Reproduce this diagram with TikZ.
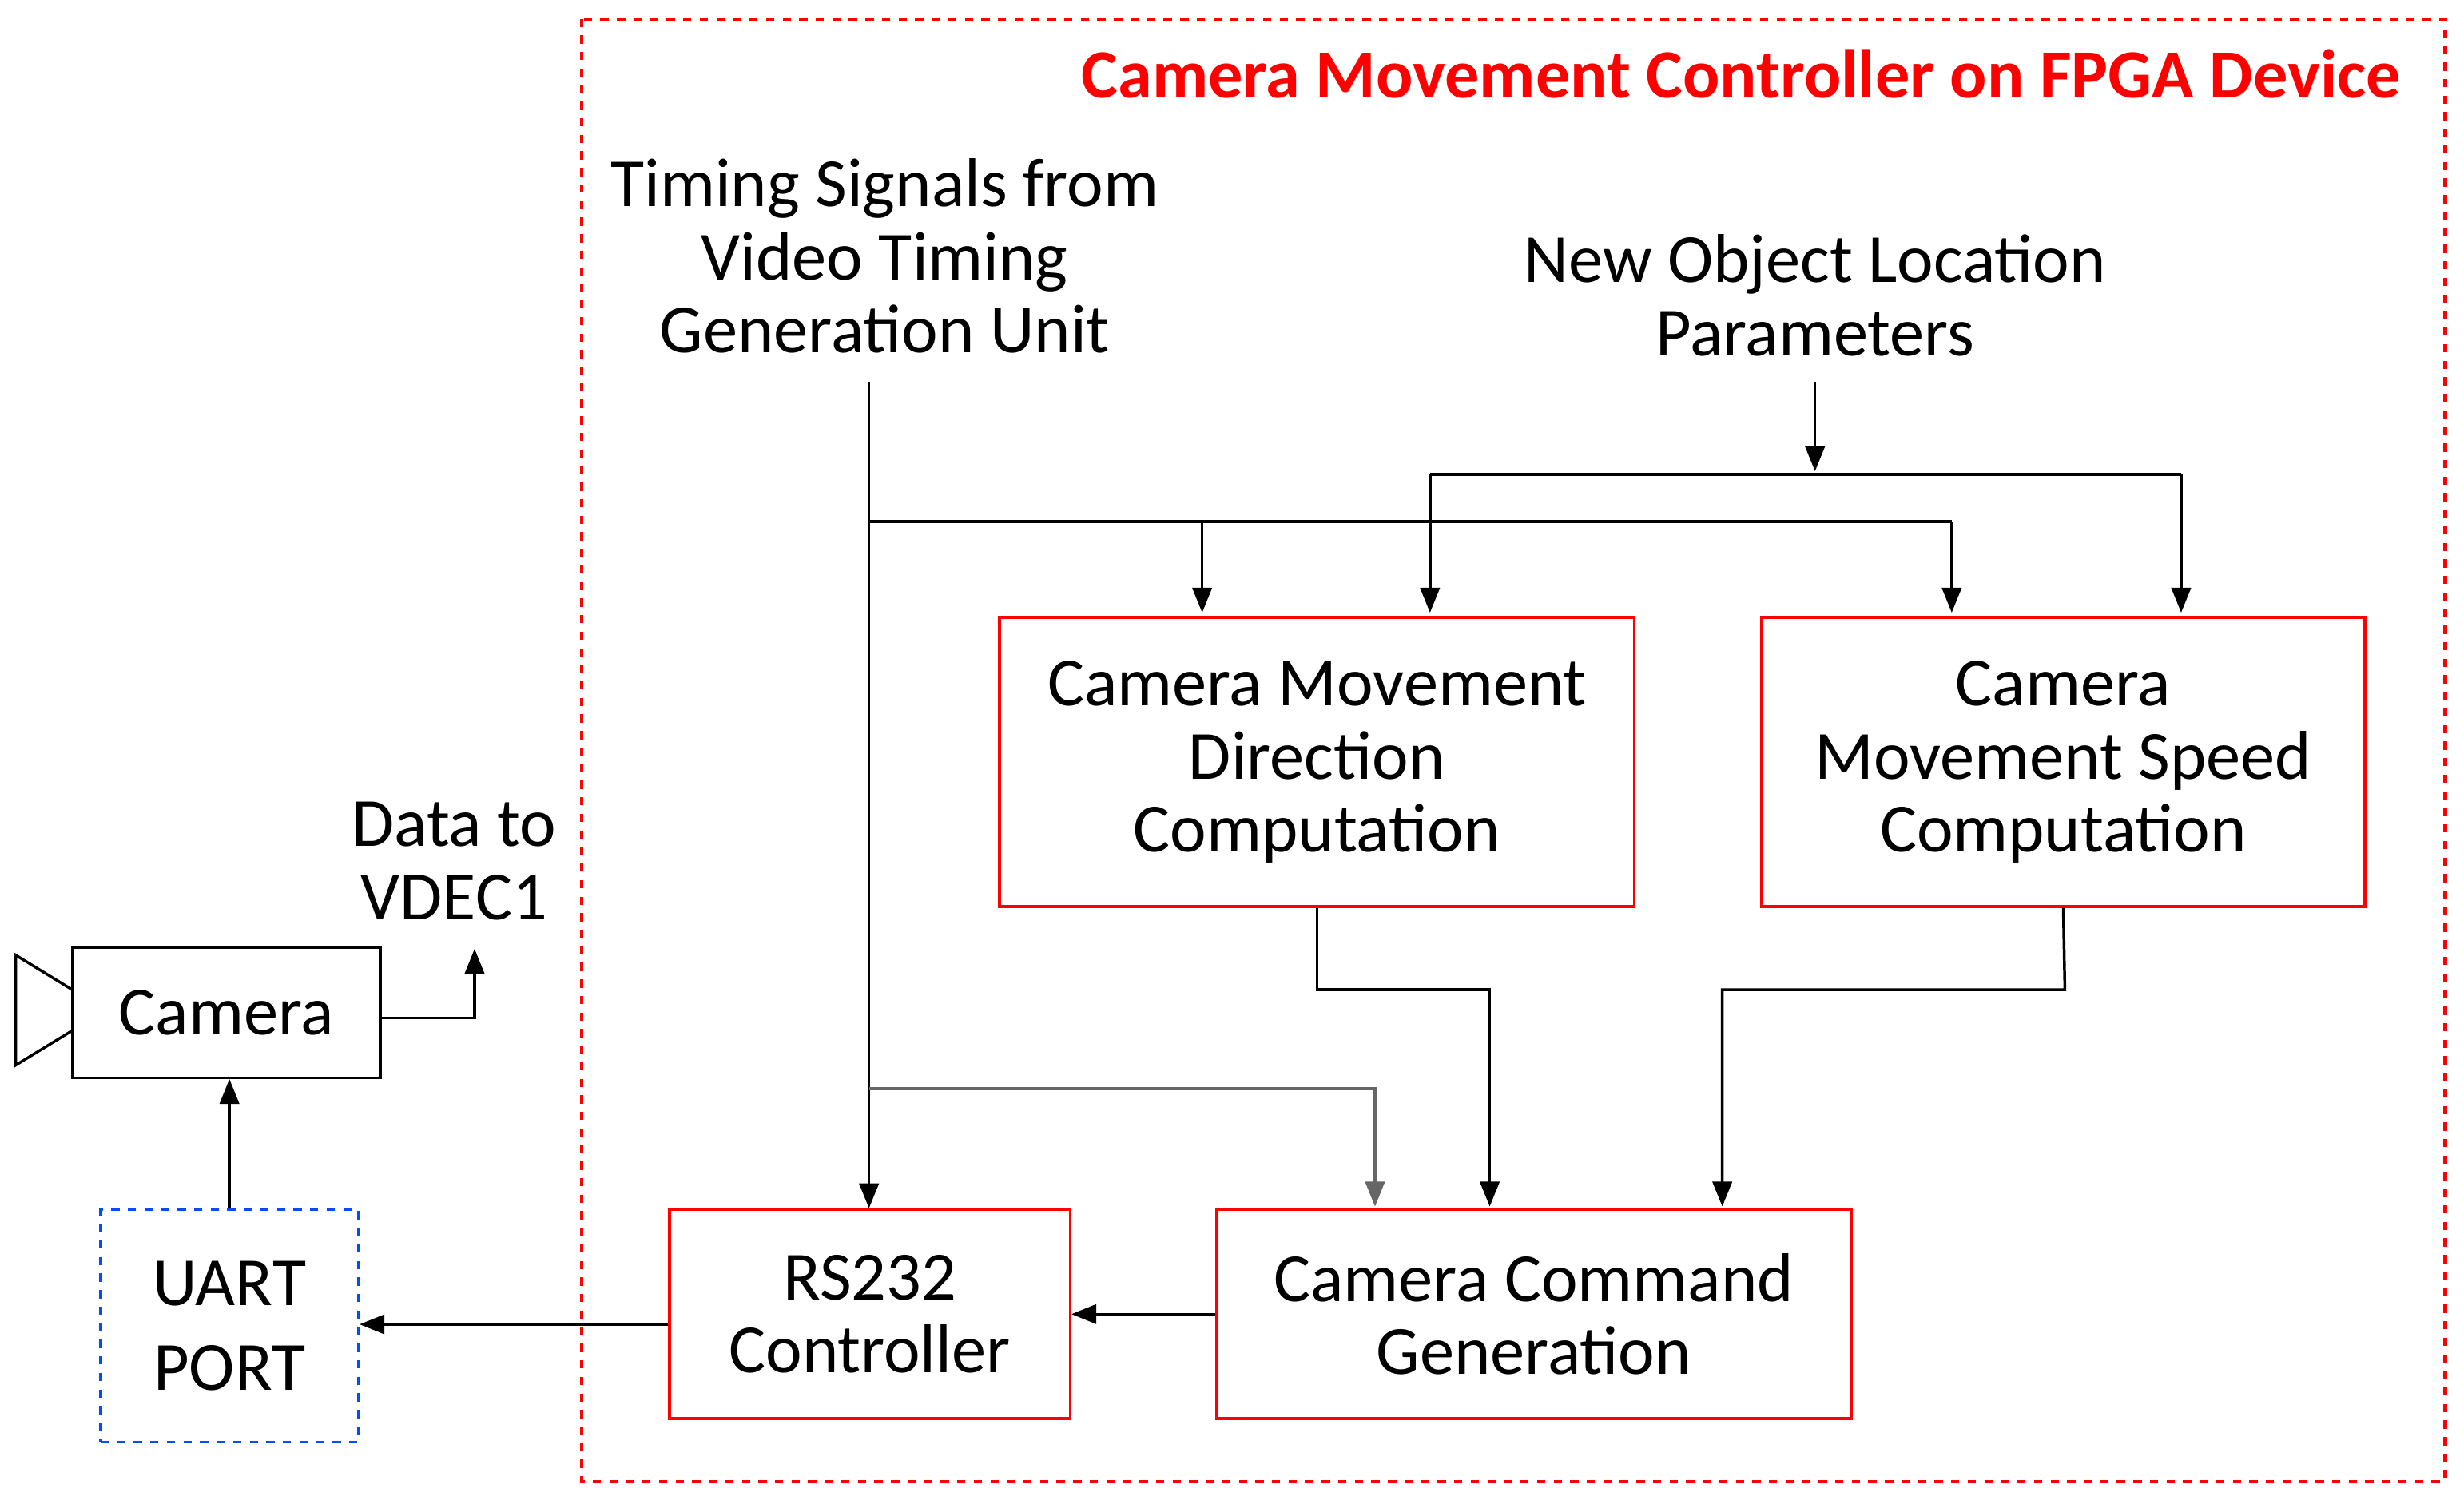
\documentclass[tikz,border=0pt]{standalone}
\usepackage{fontspec}
\setmainfont{Carlito}
\usetikzlibrary{arrows.meta}
\begin{document}
\begin{tikzpicture}[x=0.02cm,y=-0.02cm,
  txt/.style={font=\fontsize{25}{26.5}\selectfont,align=center},
  rbox/.style={draw=red,line width=1pt,txt},
  arr/.style={-{Triangle[length=9pt,width=7pt]},line width=1pt},
  ln/.style={line width=1pt}]
\useasboundingbox (0,0) rectangle (1568,957);
\draw[red,dashed,line width=1.2pt] (370,12) rectangle (1556,943);
\node[anchor=east,text=red,font=\fontsize{25}{30}\selectfont\bfseries] (title) at (1534,47) {Camera Movement Controller on FPGA Device};
\node[txt] (timing) at (563,163) {Timing Signals from\\Video Timing\\Generation Unit};
\node[txt] (newobj) at (1155,188) {New Object Location\\Parameters};
\node[rbox,minimum width=404\pgflinewidth*0+8.08cm,minimum height=3.68cm] (dir) at (838,485) {Camera Movement\\Direction\\Computation};
\node[rbox,minimum width=7.68cm,minimum height=3.68cm] (spd) at (1313,485) {Camera\\Movement Speed\\Computation};
\node[rbox,minimum width=5.1cm,minimum height=2.66cm] (rs) at (553.5,836.5) {RS232\\Controller};
\node[rbox,minimum width=8.08cm,minimum height=2.66cm] (cmd) at (976,836.5) {Camera Command\\Generation};
\node[draw,line width=1pt,txt,minimum width=3.92cm,minimum height=1.66cm] (cam) at (144,644.5) {Camera};
\draw[line width=1pt] (46,630)--(10,608)--(10,678)--(46,656);
\node[draw=blue!70!cyan,dashed,line width=1pt,txt,minimum width=3.28cm,minimum height=2.96cm] (uart) at (146,844) {UART\\[4pt]PORT};
\node[txt] (data) at (289,548) {Data to\\VDEC1};
\coordinate (t0) at (553,243);
\coordinate (tb) at (553,332);
\coordinate (tg) at (553,693);
\draw[arr] (t0) -- (rs.north -| t0);
\draw[ln] (tb) -- (1242,332);
\draw[arr] (765,332) -- (765,390);
\draw[arr] (1242,332) -- (1242,390);
\coordinate (n0) at (1155,243);
\draw[arr] (n0) -- (1155,300);
\draw[ln] (910,302) -- (1388,302);
\draw[arr] (910,302) -- (910,390);
\draw[arr] (1388,302) -- (1388,390);
\draw[arr,draw=gray!80!black] (tg) -- (875,693) -- (875,768);
\draw[arr] (dir.south) -- (838,630) -- (948,630) -- (948,768);
\draw[arr] (spd.south) -- (1314,630) -- (1096,630) -- (1096,768);
\draw[arr] (cmd.west) -- (rs.east |- cmd.west);
\draw[arr] (rs.west |- 0,843) -- (uart.east |- 0,843);
\draw[arr] (uart.north) -- (cam.south -| uart.north);
\coordinate (d0) at (302,604);
\draw[arr] (cam.east |- 0,648) -- (302,648) -- (d0);
\end{tikzpicture}
\end{document}
